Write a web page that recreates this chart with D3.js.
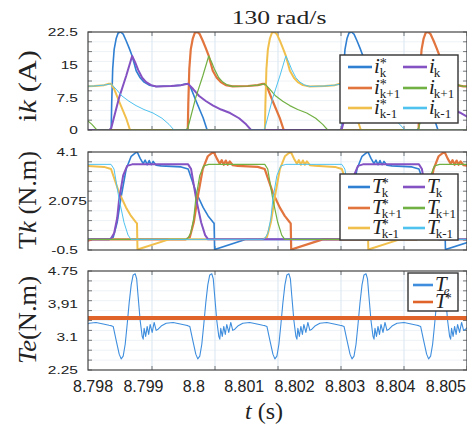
<!DOCTYPE html>
<html>
<head>
<meta charset="utf-8">
<script src="https://cdn.jsdelivr.net/npm/d3@7"></script>
<style>
body { margin: 0; background: #fff; }
svg { display: block; }
.serif { font-family: "Liberation Serif", "DejaVu Serif", serif; }
.sans { font-family: "Liberation Sans", Arial, sans-serif; }
</style>
</head>
<body>
<div id="chart"></div>
<script>
// x axis: printed labels and grid/tick times (s)
const xDomain = [8.7979, 8.80542]
const xTickLabels = [8.798, 8.799, 8.8, 8.801, 8.802, 8.803, 8.804, 8.805]
const gridTimes = [8.79917, 8.80042, 8.80167, 8.80292, 8.80417, 8.80542]

// phase start times (s)
const phaseK = [8.79836, 8.80294]
const phaseKp1 = [8.79530, 8.79988, 8.80446]
const phaseKm1 = [8.79683, 8.80141]
const teStarts = [8.79683, 8.79836, 8.79988, 8.80141, 8.80294, 8.80446]

// pulse shapes: [µs after phase start, value]
const iRefShape = [[-40, 0], [0, 0], [10, 6], [30, 14], [59, 18.5], [99, 21], [139, 22.3], [188, 22.5], [238, 22],
  [297, 20.5], [357, 18.8], [416, 17], [496, 13.6], [575, 12], [654, 11], [754, 10.3], [892, 10], [1190, 10.1],
  [1388, 10.3], [1487, 10.6], [1527, 10.6], [1586, 9.5], [1686, 6.6], [1824, 2.8], [1904, 0]]
const iActShape = [[-40, 0], [0, 0.4], [159, 7.5], [297, 12.4], [416, 17], [476, 15.5], [535, 13.8], [615, 12],
  [694, 11], [793, 10.3], [892, 10], [1190, 10.1], [1388, 10.3], [1527, 10.6], [1626, 9.4], [1745, 7.8],
  [1884, 6.6], [2023, 5.6], [2181, 4.7], [2360, 3.9], [2538, 2.7], [2677, 1.3], [2776, 0]]
const tRefShape = [[-40, 0], [40, 0.1], [119, 0.8], [198, 2.0], [297, 3.3], [397, 3.9], [476, 4.05], [516, 4.1],
  [575, 3.8], [635, 3.55], [674, 3.72], [714, 3.5], [754, 3.7], [793, 3.5], [833, 3.66], [892, 3.48], [992, 3.45],
  [1388, 3.4], [1527, 3.3], [1686, 2.2], [1824, 1.5], [1923, 1.1], [2023, 0.8], [2042, 0.75], [2052, -0.48], [2677, 0]]
const tActShape = [[-40, 0], [0, 0.05], [60, 0.3], [119, 1.0], [159, 1.9], [238, 3.0], [317, 3.45], [416, 3.52],
  [1527, 3.52], [1586, 3.3], [1686, 1.9], [1784, 0.8], [1864, 0.2], [1923, 0]]
const teShape = [[0, 3.37], [40, 3.35], [99, 3.0], [159, 2.65], [198, 2.53], [238, 2.6], [278, 2.9], [317, 3.4],
  [357, 3.95], [397, 4.4], [436, 4.65], [476, 4.68], [506, 4.55], [535, 4.1], [575, 3.5], [615, 3.1], [635, 3.03],
  [654, 3.3], [684, 3.1], [714, 3.35], [744, 3.15], [773, 3.4], [813, 3.2], [853, 3.45], [892, 3.25], [932, 3.28],
  [992, 3.36], [1091, 3.43], [1229, 3.45], [1348, 3.42], [1487, 3.38]]
const tStarTimes = [8.7979, 8.80542]
const tStarValues = [3.56, 3.56]

// y axes
const iDomain = [0, 22.5], iTicks = [0, 7.5, 15, 22.5], iTickLabels = ["0", "7.5", "15", "22.5"]
const tDomain = [-0.5, 4.1], tTicks = [-0.5, 1.8, 4.1], tTickLabels = ["-0.5", "2.075", "4.1"]
const teDomain = [2.25, 4.75], teTicks = [2.25, 3.0833, 3.9167, 4.75], teTickLabels = ["2.25", "3.1", "3,91", "4.75"]

const col = { blue: "#2f7fd2", orange: "#e2743e", yellow: "#f1bf4c", purple: "#8452c2", green: "#71b043", cyan: "#4fc2ef" }

const width = 467, height = 437
const left = 88, right = 467

const svg = d3.select("#chart").append("svg")
  .attr("width", width).attr("height", height)
  .attr("class", "sans")

const x = d3.scaleLinear().domain(xDomain).range([left, right])

function pulses(starts, shape) {
  const pts = []
  starts.forEach(s => shape.forEach(p => pts.push([s + p[0] * 1e-6, p[1]])))
  if (pts[0][0] > xDomain[0]) pts.unshift([xDomain[0], 0])
  if (pts[pts.length - 1][0] < xDomain[1]) pts.push([xDomain[1], 0])
  return pts
}
function periodic(starts, shape) {
  const pts = []
  starts.forEach(s => shape.forEach(p => pts.push([s + p[0] * 1e-6, p[1]])))
  return pts
}

function panel(id, top, bottom, domain, ticks, labels, labelFix) {
  const y = d3.scaleLinear().domain(domain).range([bottom, top])
  const g = svg.append("g")
  g.append("clipPath").attr("id", "clip" + id).append("rect")
    .attr("x", left).attr("y", top).attr("width", right - left).attr("height", bottom - top)
  const minor = d3.range(11).map(i => domain[0] + (domain[1] - domain[0]) * i / 10)
  g.selectAll(".hg").data(minor.slice(1, 10)).enter().append("line")
    .attr("x1", left).attr("x2", right).attr("y1", d => y(d)).attr("y2", d => y(d))
    .attr("stroke", "#eef2f6").attr("stroke-width", 1)
  g.selectAll(".vg").data(gridTimes).enter().append("line")
    .attr("x1", d => x(d)).attr("x2", d => x(d)).attr("y1", top).attr("y2", bottom)
    .attr("stroke", "#d9e6f1").attr("stroke-width", 1)
  // frame ticks
  g.selectAll(".lt").data(minor).enter().append("line")
    .attr("x1", left).attr("x2", left + 4).attr("y1", d => y(d)).attr("y2", d => y(d))
    .attr("stroke", "#555").attr("stroke-width", 0.8)
  g.selectAll(".rt").data(minor).enter().append("line")
    .attr("x1", right - 4).attr("x2", right).attr("y1", d => y(d)).attr("y2", d => y(d))
    .attr("stroke", "#555").attr("stroke-width", 0.8)
  g.selectAll(".tt").data(gridTimes).enter().append("line")
    .attr("x1", d => x(d)).attr("x2", d => x(d)).attr("y1", top).attr("y2", top + 4)
    .attr("stroke", "#555").attr("stroke-width", 0.8)
  g.selectAll(".bt").data(gridTimes).enter().append("line")
    .attr("x1", d => x(d)).attr("x2", d => x(d)).attr("y1", bottom - 4).attr("y2", bottom)
    .attr("stroke", "#555").attr("stroke-width", 0.8)
  g.selectAll(".yl").data(ticks).enter().append("text")
    .attr("transform", (d, i) => "translate(" + (labelFix[i] || 78) + "," + (y(d) + 4.2) + ") scale(1.35,1)")
    .attr("text-anchor", "end").attr("font-size", 11.5).attr("fill", "#222")
    .text((d, i) => labels[i])
  const plot = g.append("g").attr("clip-path", "url(#clip" + id + ")")
  return { g, y, plot, top, bottom }
}

function drawLine(p, data, color, w) {
  const line = d3.line().x(d => x(d[0])).y(d => p.y(d[1]))
  p.plot.append("path").datum(data).attr("d", line)
    .attr("fill", "none").attr("stroke", color).attr("stroke-width", w)
    .attr("stroke-linejoin", "round")
}
function frame(p) {
  p.g.append("rect").attr("x", left).attr("y", p.top).attr("width", right - left).attr("height", p.bottom - p.top)
    .attr("fill", "none").attr("stroke", "#444").attr("stroke-width", 1.2)
}

// top: currents
const p1 = panel(1, 32, 130, iDomain, iTicks, iTickLabels, [])
drawLine(p1, pulses(phaseK, iRefShape), col.blue, 1.6)
drawLine(p1, pulses(phaseKp1, iRefShape), col.orange, 2.2)
drawLine(p1, pulses(phaseKm1, iRefShape), col.yellow, 2)
drawLine(p1, pulses(phaseK, iActShape), col.purple, 2)
drawLine(p1, pulses(phaseKp1, iActShape), col.green, 1.2)
drawLine(p1, pulses(phaseKm1, iActShape), col.cyan, 1)
frame(p1)

// middle: phase torques
const p2 = panel(2, 152, 250, tDomain, tTicks, tTickLabels, [78, 87, 78])
drawLine(p2, pulses(phaseK, tRefShape), col.blue, 1.6)
drawLine(p2, pulses(phaseKp1, tRefShape), col.orange, 2.2)
drawLine(p2, pulses(phaseKm1, tRefShape), col.yellow, 2)
drawLine(p2, pulses(phaseK, tActShape), col.purple, 2)
drawLine(p2, pulses(phaseKp1, tActShape), col.green, 1.2)
drawLine(p2, pulses(phaseKm1, tActShape), col.cyan, 1)
frame(p2)

// bottom: total torque
const p3 = panel(3, 271, 370, teDomain, teTicks, teTickLabels, [])
drawLine(p3, periodic(teStarts, teShape), "#3f8ede", 1.1)
drawLine(p3, tStarTimes.map((t, i) => [t, tStarValues[i]]), "#e0642a", 4)
frame(p3)

// x tick labels
svg.selectAll(".xl").data(xTickLabels).enter().append("text")
  .attr("x", d => x(d)).attr("y", 392).attr("text-anchor", "middle")
  .attr("font-size", 16).attr("fill", "#222").text(d => d3.format("")(d))

// titles and axis labels
svg.append("text").attr("class", "serif").attr("transform", "translate(279,24) scale(1.35,1)")
  .attr("text-anchor", "middle").attr("font-size", 19).attr("fill", "#222")
  .text("130 rad/s")

function yLabel(cy, len, parts) {
  const t = svg.append("text").attr("class", "serif")
    .attr("transform", "translate(36," + cy + ") rotate(-90) scale(1,1.3)")
    .attr("text-anchor", "middle").attr("font-size", 19).attr("fill", "#222")
    .attr("textLength", len).attr("lengthAdjust", "spacingAndGlyphs")
  parts.forEach(p => t.append("tspan").attr("font-style", p[1] ? "italic" : "normal").text(p[0]))
}
yLabel(86, 72, [["i", false], ["k", true], [" (A)", false]])
yLabel(200, 98, [["T", false], ["k", true], [" (N.m)", false]])
yLabel(320, 88, [["Te", true], ["(N.m)", false]])

const xl = svg.append("text").attr("class", "serif").attr("x", 264).attr("y", 419).attr("text-anchor", "middle")
  .attr("font-size", 24).attr("fill", "#222")
xl.append("tspan").attr("font-style", "italic").text("t")
xl.append("tspan").text(" (s)")

// legends: symbol, star and subscript kept in one text element
function legend(bx, by, bw, bh, entries) {
  const g = svg.append("g").attr("class", "serif")
  g.append("rect").attr("x", bx).attr("y", by).attr("width", bw).attr("height", bh)
    .attr("fill", "#fff").attr("stroke", "#333").attr("stroke-width", 1.4)
  entries.forEach(e => {
    g.append("line").attr("x1", e.cx).attr("x2", e.cx + e.len).attr("y1", e.cy).attr("y2", e.cy)
      .attr("stroke", e.color).attr("stroke-width", 2.6)
    const t = g.append("text").attr("x", e.cx + e.len + 2).attr("y", e.cy + 6).attr("fill", "#222")
    t.append("tspan").attr("font-style", "italic").attr("font-size", 21).text(e.main)
    const kern = e.main === "i" ? -1 : -3
    if (e.star) {
      t.append("tspan").attr("font-size", 14).attr("dx", kern + 1).attr("dy", -5).text("*")
      if (e.sub) t.append("tspan").attr("font-size", 13).attr("dx", -7).attr("dy", 9).text(e.sub)
    } else if (e.sub) {
      t.append("tspan").attr("font-size", 13).attr("font-style", e.subItalic ? "italic" : "normal")
        .attr("dx", kern).attr("dy", 4).text(e.sub)
    }
  })
}
const names = ["k", "k+1", "k-1"]
const refCols = [col.blue, col.orange, col.yellow], actCols = [col.purple, col.green, col.cyan]
const topRows = [67, 88, 108], midRows = [187, 208, 228]
legend(340, 55, 118, 68, names.map((n, i) => ({ cx: 348, cy: topRows[i], len: 24, color: refCols[i], main: "i", sub: n, star: true }))
  .concat(names.map((n, i) => ({ cx: 403, cy: topRows[i], len: 24, color: actCols[i], main: "i", sub: n, star: false }))))
legend(340, 174, 118, 66, names.map((n, i) => ({ cx: 348, cy: midRows[i], len: 22, color: refCols[i], main: "T", sub: n, star: true }))
  .concat(names.map((n, i) => ({ cx: 403, cy: midRows[i], len: 22, color: actCols[i], main: "T", sub: n, star: false }))))
legend(408, 273, 50, 38, [
  { cx: 413, cy: 285, len: 20, color: "#3f8ede", main: "T", sub: "e", subItalic: true, star: false },
  { cx: 413, cy: 302, len: 20, color: "#e0642a", main: "T", sub: "", star: true }])
</script>
</body>
</html>
